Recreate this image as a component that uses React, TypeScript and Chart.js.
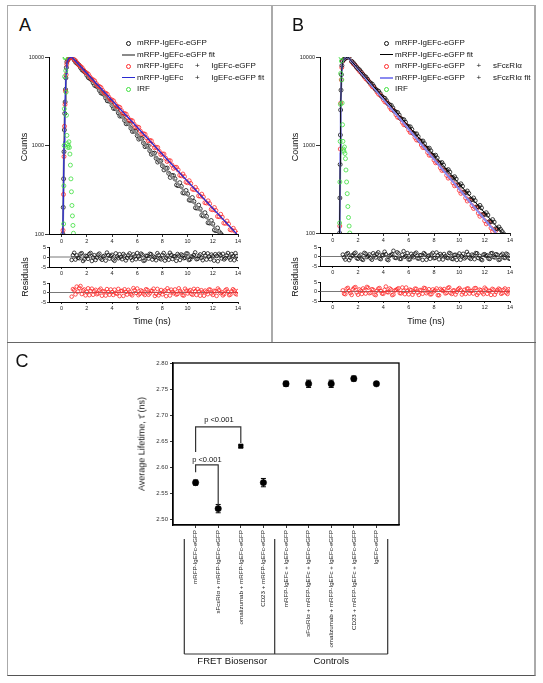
import React, { useEffect, useRef } from 'react';
import { Chart, registerables } from 'chart.js';

Chart.register(...registerables);

const FONT = '"Liberation Sans", Arial, Helvetica, sans-serif';
Chart.defaults.font.family = FONT;
Chart.defaults.color = '#222';

// ---------------- shared ticks ----------------
const timeTicks = [0, 2, 4, 6, 8, 10, 12, 14];
const countTicks = [100, 1000, 10000];
const residualTicks = [-5, 0, 5];

// ---------------- Panel A ----------------
const aLegendLabels = [
  'mRFP-IgEFc-eGFP',
  'mRFP-IgEFc-eGFP fit',
  'mRFP-IgEFc + IgEFc-eGFP',
  'mRFP-IgEFc + IgEFc-eGFP fit',
  'IRF',
];
const aBlackRiseT = [0.1, 0.13, 0.16, 0.19, 0.22, 0.25, 0.28, 0.31, 0.34, 0.38, 0.42, 0.5, 0.6, 0.7, 0.8];
const aBlackRiseY = [100, 200, 420, 850, 1500, 2300, 3100, 4300, 5800, 7600, 8800, 9300, 9700, 9950, 10000];
const aRedRiseT = [0.11, 0.15, 0.19, 0.23, 0.27, 0.31, 0.36, 0.41, 0.48, 0.58, 0.7, 0.8];
const aRedRiseY = [110, 280, 750, 1650, 2900, 4100, 6300, 8300, 9200, 9600, 9900, 10000];
const aDecayT = [
  1.0, 1.25, 1.5, 1.75, 2.0, 2.25, 2.5, 2.75, 3.0, 3.25, 3.5, 3.75, 4.0, 4.25, 4.5, 4.75, 5.0, 5.25,
  5.5, 5.75, 6.0, 6.25, 6.5, 6.75, 7.0, 7.25, 7.5, 7.75, 8.0, 8.25, 8.5, 8.75, 9.0, 9.25, 9.5, 9.75,
  10.0, 10.25, 10.5, 10.75, 11.0, 11.25, 11.5, 11.75, 12.0, 12.25, 12.5, 12.75, 13.0, 13.25, 13.5, 13.75, 14.0,
];
const aBlackY = [
  9250, 8420, 7580, 6930, 6220, 5700, 5110, 4690, 4200, 3870, 3450, 3190, 2840, 2620, 2340, 2160, 1920, 1780,
  1570, 1460, 1295, 1205, 1065, 990, 875, 815, 718, 672, 590, 553, 485, 458, 420, 352, 345, 290,
  284, 240, 233, 196, 192, 160, 158, 133, 130, 109, 106, 96, null, null, null, null, null,
];
const aRedY = [
  9320, 8500, 7840, 7120, 6580, 5970, 5530, 5010, 4640, 4200, 3900, 3520, 3270, 2950, 2740, 2480, 2300, 2075,
  1930, 1740, 1620, 1455, 1360, 1220, 1140, 1025, 955, 860, 802, 720, 675, 603, 568, 530, 455, 445,
  380, 372, 318, 314, 268, 262, 224, 220, 188, 184, 157, 155, 132, 130, 111, 108, 102,
];
const aDecayT2 = [
  1.125, 1.375, 1.625, 1.875, 2.125, 2.375, 2.625, 2.875, 3.125, 3.375, 3.625, 3.875, 4.125, 4.375,
  4.625, 4.875, 5.125, 5.375, 5.625, 5.875, 6.125, 6.375, 6.625, 6.875, 7.125, 7.375, 7.625, 7.875,
  8.125, 8.375, 8.625, 8.875, 9.125, 9.375, 9.625, 9.875, 10.125, 10.375, 10.625, 10.875, 11.125,
  11.375, 11.625, 11.875, 12.125, 12.375, 12.625, 12.875, 13.125, 13.375, 13.625, 13.875,
];
const aBlackY2 = [
  8700, 8120, 7150, 6700, 5850, 5520, 4780, 4560, 3920, 3760, 3200, 3120, 2620, 2580, 2150, 2130, 1760,
  1750, 1440, 1450, 1180, 1200, 970, 990, 795, 820, 650, 672, 530, 556, 436, 458, 358, 380, 292, 310,
  242, 258, 198, 212, 163, 174, 134, 142, 111, 117, 101,
];
const aRedY2 = [
  9020, 8080, 7580, 6760, 6380, 5660, 5370, 4730, 4520, 3950, 3800, 3310, 3190, 2770, 2690, 2310, 2260,
  1930, 1900, 1615, 1600, 1350, 1340, 1130, 1130, 945, 950, 790, 800, 660, 672, 552, 566, 462, 476, 386,
  400, 322, 336, 270, 282, 226, 237, 190, 199, 158, 167, 133, 140, 112, 116, 95,
];
const aFitBlackT = [0.1, 0.16, 0.22, 0.28, 0.34, 0.42, 0.55, 0.7, 0.8, 12.58];
const aFitBlackY = [100, 420, 1500, 3100, 5800, 8800, 9500, 9950, 10000, 100];
const aFitRedT = [0.1, 0.15, 0.2, 0.25, 0.3, 0.36, 0.42, 0.55, 0.7, 0.8, 13.9];
const aFitRedY = [100, 330, 1100, 2300, 4000, 6500, 8700, 9500, 9950, 10000, 100];
const aIrfT = [0.16, 0.18, 0.2, 0.22, 0.24, 0.27, 0.3, 0.33, 0.36, 0.39, 0.42, 0.46, 0.5, 0.54, 0.58, 0.62, 0.66, 0.7, 0.74, 0.78, 0.82, 0.86, 0.9, 0.94];
const aIrfY = [130, 350, 1000, 2600, 6000, 9800, 10000, 7000, 4000, 2200, 1300, 1050, 950, 1000, 1100, 950, 800, 600, 420, 300, 210, 160, 125, 102];

// ---------------- Panel B ----------------
const bLegendLabels = [
  'mRFP-IgEFc-eGFP',
  'mRFP-IgEFc-eGFP fit',
  'mRFP-IgEFc-eGFP + sFcεRIα',
  'mRFP-IgEFc-eGFP + sFcεRIα fit',
  'IRF',
];
const bBlackRiseT = [0.55, 0.57, 0.59, 0.61, 0.63, 0.66, 0.69, 0.73, 0.78, 0.9, 1.0, 1.1, 1.2, 1.3];
const bBlackRiseY = [100, 250, 600, 1300, 2500, 4200, 6300, 8000, 9000, 9400, 9700, 9900, 10000, 9950];
const bRedRiseT = [0.56, 0.6, 0.64, 0.68, 0.72, 0.78, 0.88, 1.0, 1.12, 1.25];
const bRedRiseY = [120, 900, 3000, 5500, 7600, 8900, 9400, 9750, 9950, 10000];
const bDecayT = [
  1.5, 1.75, 2.0, 2.25, 2.5, 2.75, 3.0, 3.25, 3.5, 3.75, 4.0, 4.25, 4.5, 4.75, 5.0, 5.25, 5.5,
  5.75, 6.0, 6.25, 6.5, 6.75, 7.0, 7.25, 7.5, 7.75, 8.0, 8.25, 8.5, 8.75, 9.0, 9.25, 9.5, 9.75,
  10.0, 10.25, 10.5, 10.75, 11.0, 11.25, 11.5, 11.75, 12.0, 12.25, 12.5, 12.75, 13.0, 13.25, 13.5, 13.75, 14.0,
];
const bBlackY = [
  8930, 8160, 7370, 6760, 6090, 5600, 5040, 4640, 4170, 3850, 3450, 3190, 2850, 2640, 2360, 2190, 1950,
  1815, 1610, 1505, 1335, 1245, 1100, 1035, 910, 858, 752, 712, 622, 592, 514, 492, 424, 410,
  349, 340, 288, 282, 240, 233, 198, 193, 163, 160, 135, 133, 112, 110, 98, null, null,
];
const bRedY = [
  8860, 8080, 7260, 6640, 5950, 5460, 4880, 4490, 4000, 3690, 3280, 3040, 2690, 2500, 2210, 2050, 1810,
  1690, 1485, 1385, 1220, 1140, 1000, 938, 822, 770, 674, 634, 552, 521, 452, 429, 372, 352,
  305, 290, 250, 239, 205, 196, 168, 161, 138, 132, 114, 109, 94, null, null, null, null,
];
const bDecayT2 = [
  1.625, 1.875, 2.125, 2.375, 2.625, 2.875, 3.125, 3.375, 3.625, 3.875, 4.125, 4.375, 4.625, 4.875,
  5.125, 5.375, 5.625, 5.875, 6.125, 6.375, 6.625, 6.875, 7.125, 7.375, 7.625, 7.875, 8.125, 8.375,
  8.625, 8.875, 9.125, 9.375, 9.625, 9.875, 10.125, 10.375, 10.625, 10.875, 11.125, 11.375, 11.625,
  11.875, 12.125, 12.375, 12.625, 12.875, 13.125, 13.375,
];
const bBlackY2 = [
  8600, 7680, 7130, 6330, 5920, 5230, 4920, 4320, 4090, 3570, 3390, 2950, 2820, 2430, 2340, 2000, 1940,
  1650, 1610, 1360, 1340, 1120, 1110, 930, 920, 765, 765, 630, 632, 520, 525, 428, 436, 353, 362, 292,
  300, 240, 250, 198, 206, 163, 170, 135, 142, 112, 117, 104,
];
const bRedY2 = [
  8380, 7750, 6870, 6380, 5630, 5250, 4610, 4320, 3780, 3560, 3090, 2940, 2530, 2420, 2070, 1990, 1700,
  1640, 1390, 1350, 1140, 1110, 935, 915, 765, 752, 628, 620, 514, 510, 420, 420, 344, 346, 282, 284,
  231, 234, 190, 192, 155, 158, 127, 130, 104, 107,
];
const bFitBlackT = [0.55, 0.59, 0.63, 0.69, 0.78, 1.0, 1.2, 13.4];
const bFitBlackY = [100, 600, 2500, 6300, 9000, 9700, 10000, 100];
const bFitRedT = [0.56, 0.6, 0.64, 0.7, 0.78, 1.0, 1.2, 12.9];
const bFitRedY = [100, 800, 2900, 6500, 8900, 9700, 10000, 100];
const bIrfT = [0.55, 0.57, 0.59, 0.61, 0.63, 0.66, 0.69, 0.72, 0.75, 0.78, 0.81, 0.85, 0.89, 0.93, 0.97, 1.01, 1.05, 1.1, 1.15, 1.2, 1.25, 1.3, 1.35];
const bIrfY = [130, 380, 1100, 2900, 6500, 10000, 9000, 5500, 3000, 1700, 1100, 900, 850, 950, 800, 700, 520, 380, 280, 200, 150, 120, 100];

// ---------------- Residuals (A and B) ----------------
const resTimes = [
  0.8, 1.0, 1.2, 1.4, 1.6, 1.8, 2.0, 2.2, 2.4, 2.6,
  2.8, 3.0, 3.2, 3.4, 3.6, 3.8, 4.0, 4.2, 4.4, 4.6,
  4.8, 5.0, 5.2, 5.4, 5.6, 5.8, 6.0, 6.2, 6.4, 6.6,
  6.8, 7.0, 7.2, 7.4, 7.6, 7.8, 8.0, 8.2, 8.4, 8.6,
  8.8, 9.0, 9.2, 9.4, 9.6, 9.8, 10.0, 10.2, 10.4, 10.6,
  10.8, 11.0, 11.2, 11.4, 11.6, 11.8, 12.0, 12.2, 12.4, 12.6,
  12.8, 13.0, 13.2, 13.4, 13.6, 13.8, 14.0,
];
const resTimes2 = [
  0.9, 1.1, 1.3, 1.5, 1.7, 1.9, 2.1, 2.3, 2.5, 2.7,
  2.9, 3.1, 3.3, 3.5, 3.7, 3.9, 4.1, 4.3, 4.5, 4.7,
  4.9, 5.1, 5.3, 5.5, 5.7, 5.9, 6.1, 6.3, 6.5, 6.7,
  6.9, 7.1, 7.3, 7.5, 7.7, 7.9, 8.1, 8.3, 8.5, 8.7,
  8.9, 9.1, 9.3, 9.5, 9.7, 9.9, 10.1, 10.3, 10.5, 10.7,
  10.9, 11.1, 11.3, 11.5, 11.7, 11.9, 12.1, 12.3, 12.5, 12.7,
  12.9, 13.1, 13.3, 13.5, 13.7, 13.9,
];
const resZeroT = [-1, 14];
const resZeroY = [0, 0];
const aRes1 = [
  -1.5, 2.1, 0.8, -0.6, 1.9, -1.2, 0.4, 1.5, -2.0, 0.9,
  -0.3, 1.7, -1.4, 0.6, 2.2, -0.8, 1.1, -1.9, 0.2, 1.4,
  -1.1, 0.7, -0.5, 1.8, -1.6, 0.3, 2.0, -0.9, 1.2, -1.7,
  0.5, 1.6, -1.3, -0.2, 1.9, -0.7, 1.0, -1.8, 0.6, 2.1,
  -1.0, 0.3, 1.5, -1.5, 0.8, -0.4, 1.7, -1.2, 0.1, 2.3,
  -0.9, 1.3, -1.6, 0.7, 1.8, -1.1, 0.4, 1.4, -2.1, 0.9,
  1.6, -0.6, 2.0, -1.4, 0.5, 1.9, -1.0,
];
const aRes1b = [
  0.9, -1.3, -0.4, 1.6, -2.0, 0.6, -0.9, 2.0, -0.2, -1.5,
  1.2, -0.7, 0.3, -1.8, 1.0, 0.5, -1.3, 1.8, -0.6, -0.1,
  1.5, -1.7, 0.9, -0.4, 1.3, -1.1, 0.2, 1.7, -1.9, 0.6,
  -0.8, 1.4, 0.2, -1.6, 0.9, -1.2, 2.0, -0.3, -1.4, 1.1,
  0.4, -1.9, 0.7, 1.3, -0.6, 1.8, -1.5, 0.3, 1.0, -1.1,
  0.6, -0.4, 1.9, -1.3, 0.2, 1.2, -1.8, 0.5, 1.6, -0.7,
  -1.2, 0.8, -0.3, 1.5, -1.6, 0.4,
];
const aRes2 = [
  -2.2, 1.2, 3.1, 2.4, -0.8, 1.6, 0.3, -1.4, 2.0, 0.7,
  -0.9, 1.3, -1.7, 0.5, 1.8, -1.2, 0.2, 1.5, -0.6, -1.9,
  0.9, 1.7, -1.1, 0.4, -1.5, 1.2, 2.1, -0.7, 0.6, -1.3,
  1.4, -0.4, 0.8, -1.8, 1.9, -0.2, -1.0, 1.1, 2.2, -1.6,
  0.3, 1.6, -0.8, 0.9, -1.4, 2.0, -0.5, 1.3, -1.2, 0.7,
  1.8, -1.7, 0.2, 1.0, -0.9, 1.5, -1.3, 0.6, 2.1, -0.3,
  -1.5, 1.2, 0.4, -1.1, 1.7, -0.6, 0.8,
];
const aRes2b = [
  1.8, -1.0, 0.5, 3.4, 1.1, -1.5, 2.2, 0.8, -1.2, 1.4,
  -0.5, 2.0, 0.6, -1.6, 0.2, 1.6, -1.3, -0.4, 1.9, 0.7,
  -1.8, 0.3, 1.4, -0.9, 2.3, -0.2, -1.4, 1.1, -0.6, 1.7,
  -1.2, 0.9, 2.0, -0.7, -1.5, 1.3, 0.4, -1.9, 0.8, 1.5,
  -0.4, -1.1, 2.2, 0.1, -1.6, 1.0, 0.6, -0.8, 1.9, -1.3,
  0.5, 1.2, -1.7, 0.3, 1.6, -0.5, 0.9, -1.8, 1.3, 0.2,
  -0.9, 1.7, -1.4, 0.6, 1.1, -1.0,
];
const bRes1 = [
  1.0, -1.6, 1.8, -0.7, 0.4, 2.0, -1.2, 0.9, -1.8, 1.5,
  0.2, -1.0, 1.7, -0.5, 2.2, -1.4, 0.6, 1.2, -1.9, 0.8,
  3.0, -0.8, 1.6, -1.3, 2.8, 0.3, -1.6, 1.4, -0.4, 2.0,
  -1.1, 0.7, 1.8, -1.7, 0.5, 1.1, -0.9, 2.1, -1.5, 0.4,
  1.3, -0.6, 1.9, -1.2, 0.8, -1.8, 1.6, 0.1, -1.0, 2.4,
  -0.7, 1.0, -1.4, 1.7, 0.3, -1.9, 1.2, 0.6, -1.3, 1.8,
  -0.5, 0.9, -1.6, 1.4, -0.8, 1.1, -1.2,
];
const bRes1b = [
  -0.5, 1.3, -1.9, 0.6, 1.6, -0.9, 0.2, -1.4, 1.9, -0.3,
  1.1, -1.7, 0.5, 1.4, -1.1, 0.8, 2.5, -1.6, 0.4, 1.2,
  -0.6, 2.2, -1.3, 0.9, -0.2, 1.8, -1.5, 0.3, 1.5, -1.0,
  0.7, -1.8, 1.2, 0.1, -1.2, 1.9, -0.7, 0.6, 1.3, -1.6,
  0.2, -0.9, 1.6, -1.4, 0.9, 0.4, -1.7, 1.4, -0.4, 1.1,
  -1.3, 0.5, 1.8, -0.8, -1.5, 1.0, 0.3, -1.1, 1.7, -0.2,
  1.2, -1.8, 0.7, -0.5, 1.5, -1.0,
];
const bRes2 = [
  0.6, -1.4, 1.9, -0.8, 1.2, 2.3, -1.7, 0.4, 1.6, -1.1,
  2.0, -0.6, 0.9, -1.9, 1.5, 0.2, -1.2, 2.6, -0.4, 1.1,
  -1.6, 0.8, 1.7, -1.0, 0.3, 2.1, -1.5, 0.7, -0.3, 1.4,
  -1.8, 0.5, 1.9, -0.9, 1.2, -1.4, 0.1, 1.6, -2.0, 0.8,
  1.3, -0.7, 2.2, -1.3, 0.6, -0.2, 1.8, -1.6, 0.9, 1.5,
  -1.1, 0.4, 1.7, -1.8, 1.0, -0.5, 2.0, -1.2, 0.3, 1.4,
  -1.7, 0.7, 1.1, -0.9, 1.6, -1.3, 0.5,
];
const bRes2b = [
  -1.2, 1.5, 0.3, -1.8, 2.0, -0.5, 1.1, -1.3, 0.6, 2.4,
  -0.9, 1.2, -1.6, 0.4, 1.8, -1.1, 0.9, -0.3, 1.6, -1.9,
  0.5, 1.3, -0.8, 2.1, -1.4, 0.2, 1.0, -1.7, 1.5, -0.6,
  0.8, -1.2, 1.7, -0.1, -1.5, 1.1, 0.6, -1.9, 1.4, 0.3,
  -1.0, 1.9, -0.7, 0.5, -1.6, 1.2, 0.9, -0.4, -1.3, 1.6,
  0.2, -1.1, 1.8, -0.9, 0.7, -1.4, 1.3, 0.4, -1.8, 1.0,
  -0.3, 1.5, -1.2, 0.9, -0.6, 1.2,
];

// ---------------- Panel C ----------------
const cPositions = [1, 2, 3, 4, 5, 6, 7, 8, 9];
const cLabels = [
  'mRFP-IgEFc-eGFP',
  'sFcεRIα + mRFP-IgEFc-eGFP',
  'omalizumab + mRFP-IgEFc-eGFP',
  'CD23 + mRFP-IgEFc-eGFP',
  'mRFP-IgEFc + IgEFc-eGFP',
  'sFcεRIα + mRFP-IgEFc + IgEFc-eGFP',
  'omalizumab + mRFP-IgEFc + IgEFc-eGFP',
  'CD23 + mRFP-IgEFc + IgEFc-eGFP',
  'IgEFc-eGFP',
];
const cValues = [2.57, 2.52, 2.64, 2.57, 2.76, 2.76, 2.76, 2.77, 2.76];
const cErrors = [0.005, 0.008, 0.002, 0.008, 0.005, 0.007, 0.007, 0.005, 0];
const cMarkers = ['circle', 'circle', 'rect', 'circle', 'circle', 'circle', 'circle', 'circle', 'circle'];
const cYTicks = [2.5, 2.55, 2.6, 2.65, 2.7, 2.75, 2.8];
const bracketLowT = [1, 1, 2, 2];
const bracketLowY = [2.59, 2.604, 2.604, 2.527];
const bracketHighT = [1, 1, 3, 3];
const bracketHighY = [2.629, 2.677, 2.677, 2.646];
const pLabelText = ['p <0.001', 'p <0.001'];
const pLabelX = [1.5, 2.03];
const pLabelY = [2.614, 2.69];
const groupNames = ['FRET Biosensor', 'Controls'];
const groupBounds = [0.5, 4.5, 9.5];
const groupCenters = [2.62, 7.0];

// ---------------- helpers ----------------
type Pt = { x: number; y: number };
const pts = (xs: number[], ys: (number | null)[]): Pt[] => {
  const out: Pt[] = [];
  xs.forEach((x, i) => {
    const y = ys[i];
    if (y !== null && y !== undefined) out.push({ x, y });
  });
  return out;
};

const scatterDs = (data: Pt[], color: string, order: number, radius = 2) => ({
  data,
  showLine: false,
  pointRadius: radius,
  pointStyle: 'circle',
  pointBorderColor: color,
  borderColor: color,
  pointBackgroundColor: 'rgba(0,0,0,0)',
  backgroundColor: 'rgba(0,0,0,0)',
  pointBorderWidth: 0.8,
  order,
});
const lineDs = (data: Pt[], color: string, width: number, order: number) => ({
  data,
  showLine: true,
  pointRadius: 0,
  borderColor: color,
  backgroundColor: color,
  borderWidth: width,
  tension: 0,
  fill: false,
  order,
});

const tickFont = { family: FONT, size: 5.5 };

const xTimeScale = (h: number, tickLen: number) => ({
  type: 'linear',
  min: -1,
  max: 14,
  afterBuildTicks: (s: any) => {
    s.ticks = timeTicks.map((v) => ({ value: v }));
  },
  afterFit: (s: any) => {
    s.height = h;
  },
  ticks: { font: tickFont, color: '#222', padding: 1, maxRotation: 0, autoSkip: false, callback: (v: any) => String(v) },
  grid: { drawOnChartArea: false, drawTicks: true, tickLength: tickLen, color: '#000', lineWidth: 0.8 },
  border: { display: true, color: '#000', width: 1 },
});

const yCountScale = (w: number) => ({
  type: 'logarithmic',
  min: 100,
  max: 10000,
  afterBuildTicks: (s: any) => {
    s.ticks = countTicks.map((v) => ({ value: v }));
  },
  afterFit: (s: any) => {
    s.width = w;
  },
  ticks: { font: tickFont, color: '#222', padding: 1, autoSkip: false, callback: (v: any) => String(v) },
  grid: { drawOnChartArea: false, drawTicks: true, tickLength: 4, color: '#000', lineWidth: 0.8 },
  border: { display: true, color: '#000', width: 1 },
});

const yResScale = (w: number) => ({
  type: 'linear',
  min: -5,
  max: 5,
  afterBuildTicks: (s: any) => {
    s.ticks = residualTicks.map((v) => ({ value: v }));
  },
  afterFit: (s: any) => {
    s.width = w;
  },
  ticks: { font: tickFont, color: '#222', padding: 1, autoSkip: false, callback: (v: any) => String(v) },
  grid: { drawOnChartArea: false, drawTicks: true, tickLength: 2, color: '#000', lineWidth: 0.8 },
  border: { display: true, color: '#000', width: 1 },
});

const baseOptions = (padding: any, scales: any) => ({
  responsive: false,
  maintainAspectRatio: false,
  animation: false,
  events: [],
  layout: { padding },
  plugins: { legend: { display: false }, tooltip: { enabled: false } },
  scales,
});

// ---------------- chart configs ----------------
const makeAMain = () => ({
  type: 'scatter',
  data: {
    datasets: [
      scatterDs(
        [...pts(aBlackRiseT, aBlackRiseY), ...pts(aDecayT, aBlackY), ...pts(aDecayT2, aBlackY2)],
        '#111',
        5
      ),
      lineDs(pts(aFitBlackT, aFitBlackY), '#8a8a8a', 2, 4),
      scatterDs(
        [...pts(aRedRiseT, aRedRiseY), ...pts(aDecayT, aRedY), ...pts(aDecayT2, aRedY2)],
        '#ff2a2a',
        3
      ),
      lineDs(pts(aFitRedT, aFitRedY), '#2a2ad0', 1.3, 2),
      scatterDs(pts(aIrfT, aIrfY), '#3ee03e', 1),
    ],
  },
  options: baseOptions({ left: 0, top: 12, right: 10, bottom: 0 }, { x: xTimeScale(11, 3), y: yCountScale(41) }),
});

const makeBMain = () => ({
  type: 'scatter',
  data: {
    datasets: [
      scatterDs(
        [...pts(bRedRiseT, bRedRiseY), ...pts(bDecayT, bRedY), ...pts(bDecayT2, bRedY2)],
        '#ff2a2a',
        5
      ),
      scatterDs(
        [...pts(bBlackRiseT, bBlackRiseY), ...pts(bDecayT, bBlackY), ...pts(bDecayT2, bBlackY2)],
        '#111',
        4
      ),
      lineDs(pts(bFitRedT, bFitRedY), '#8a8af0', 2, 3),
      lineDs(pts(bFitBlackT, bFitBlackY), '#000', 1, 2),
      scatterDs(pts(bIrfT, bIrfY), '#3ee03e', 1),
    ],
  },
  options: baseOptions({ left: 0, top: 12, right: 10, bottom: 0 }, { x: xTimeScale(12, 3), y: yCountScale(41) }),
});

const makeRes = (vals: number[], vals2: number[], color: string, pt: number, xh: number) => () => ({
  type: 'scatter',
  data: {
    datasets: [
      scatterDs([...pts(resTimes, vals), ...pts(resTimes2, vals2)], color, 1, 1.8),
      lineDs(pts(resZeroT, resZeroY), '#555', 0.8, 2),
    ],
  },
  options: baseOptions({ left: 0, top: pt, right: 10, bottom: 0 }, { x: xTimeScale(xh, 2), y: yResScale(41) }),
});

const cDecor = {
  id: 'cDecor',
  beforeDatasetsDraw(chart: any) {
    const { ctx, scales } = chart;
    const x = scales.x;
    const y = scales.y;
    ctx.save();
    ctx.strokeStyle = '#000';
    ctx.lineWidth = 1;
    cPositions.forEach((p, i) => {
      const e = cErrors[i];
      if (!e) return;
      const px = x.getPixelForValue(p);
      const y1 = y.getPixelForValue(cValues[i] + e);
      const y2 = y.getPixelForValue(cValues[i] - e);
      ctx.beginPath();
      ctx.moveTo(px, y1);
      ctx.lineTo(px, y2);
      ctx.moveTo(px - 2.5, y1);
      ctx.lineTo(px + 2.5, y1);
      ctx.moveTo(px - 2.5, y2);
      ctx.lineTo(px + 2.5, y2);
      ctx.stroke();
    });
    ctx.restore();
  },
  afterDraw(chart: any) {
    const { ctx, chartArea, scales } = chart;
    const x = scales.x;
    const y = scales.y;
    ctx.save();
    ctx.strokeStyle = '#000';
    ctx.lineWidth = 1.3;
    ctx.strokeRect(chartArea.left, chartArea.top, chartArea.right - chartArea.left, chartArea.bottom - chartArea.top);
    ctx.fillStyle = '#111';
    ctx.font = `7.5px ${FONT}`;
    ctx.textAlign = 'center';
    ctx.textBaseline = 'middle';
    pLabelText.forEach((t, i) => {
      ctx.fillText(t, x.getPixelForValue(pLabelX[i]), y.getPixelForValue(pLabelY[i]));
    });
    const top = chartArea.bottom + 14;
    const bot = chartArea.bottom + 129;
    ctx.strokeStyle = '#333';
    ctx.lineWidth = 1.2;
    ctx.beginPath();
    groupBounds.forEach((g) => {
      const px = x.getPixelForValue(g);
      ctx.moveTo(px, top);
      ctx.lineTo(px, bot);
    });
    ctx.moveTo(x.getPixelForValue(groupBounds[0]), bot);
    ctx.lineTo(x.getPixelForValue(groupBounds[groupBounds.length - 1]), bot);
    ctx.stroke();
    ctx.font = `9.5px ${FONT}`;
    ctx.fillStyle = '#111';
    groupNames.forEach((n, i) => {
      ctx.fillText(n, x.getPixelForValue(groupCenters[i]), chartArea.bottom + 136);
    });
    ctx.restore();
  },
};

const makeC = () => ({
  type: 'scatter',
  data: {
    datasets: [
      {
        data: pts(cPositions, cValues),
        showLine: false,
        pointStyle: cMarkers,
        pointRadius: 3.2,
        pointBackgroundColor: '#000',
        pointBorderColor: '#000',
        backgroundColor: '#000',
        borderColor: '#000',
        pointBorderWidth: 0.5,
        order: 1,
      },
      lineDs(pts(bracketLowT, bracketLowY), '#333', 1.2, 2),
      lineDs(pts(bracketHighT, bracketHighY), '#333', 1.2, 3),
    ],
  },
  options: baseOptions(
    { left: 0, top: 18, right: 21, bottom: 0 },
    {
      x: {
        type: 'linear',
        min: 0,
        max: 10,
        afterBuildTicks: (s: any) => {
          s.ticks = cPositions.map((v) => ({ value: v }));
        },
        afterFit: (s: any) => {
          s.height = 145;
        },
        ticks: {
          font: { family: FONT, size: 6.2 },
          color: '#222',
          padding: 2,
          autoSkip: false,
          minRotation: 90,
          maxRotation: 90,
          callback: (v: any) => {
            const i = cPositions.indexOf(Number(v));
            return i >= 0 ? cLabels[i] : '';
          },
        },
        grid: { drawOnChartArea: false, drawTicks: true, tickLength: 3, color: '#000', lineWidth: 0.8 },
        border: { display: true, color: '#000', width: 1.3 },
      },
      y: {
        type: 'linear',
        min: 2.4885,
        max: 2.8,
        afterBuildTicks: (s: any) => {
          s.ticks = cYTicks.map((v) => ({ value: v }));
        },
        afterFit: (s: any) => {
          s.width = 43;
        },
        ticks: { font: { family: FONT, size: 6 }, color: '#333', padding: 2, autoSkip: false, callback: (v: any) => Number(v).toFixed(2) },
        grid: { drawOnChartArea: false, drawTicks: true, tickLength: 3, color: '#000', lineWidth: 0.8 },
        border: { display: true, color: '#000', width: 1.3 },
      },
    }
  ),
  plugins: [cDecor],
});

// ---------------- components ----------------
function ChartBox({ x, y, w, h, make }: { x: number; y: number; w: number; h: number; make: () => any }) {
  const ref = useRef<HTMLCanvasElement>(null);
  useEffect(() => {
    const c = new Chart(ref.current as HTMLCanvasElement, make());
    return () => c.destroy();
  }, []);
  return (
    <canvas
      ref={ref}
      width={w}
      height={h}
      style={{ position: 'absolute', left: x, top: y, width: w, height: h }}
    />
  );
}

function Txt({ x, y, size, rotate = 0, children }: { x: number; y: number; size: number; rotate?: number; children: any }) {
  return (
    <div
      style={{
        position: 'absolute',
        left: x,
        top: y,
        transform: `translate(-50%, -50%) rotate(${rotate}deg)`,
        fontFamily: FONT,
        fontSize: size,
        lineHeight: 1,
        whiteSpace: 'nowrap',
        color: '#111',
      }}
    >
      {children}
    </div>
  );
}

// legend label: the reference sets wide gaps around "+"
function LegendLabel({ text }: { text: string }) {
  const parts = text.split(' + ');
  if (parts.length < 2) return <>{text}</>;
  return (
    <>
      {parts[0]}
      <span style={{ margin: '0 9.5px' }}> + </span>
      {parts.slice(1).join(' + ')}
    </>
  );
}

type LegendEntry = { kind: 'circle' | 'line'; color: string; w?: number };
function LegendBox({ labels, symbols, symX, textX, y0, dy }: { labels: string[]; symbols: LegendEntry[]; symX: number; textX: number; y0: number; dy: number }) {
  return (
    <>
      {labels.map((label, i) => {
        const cy = y0 + i * dy;
        const s = symbols[i];
        return (
          <React.Fragment key={i}>
            {s.kind === 'circle' ? (
              <div
                style={{
                  position: 'absolute',
                  left: symX - 2.5,
                  top: cy - 2.5,
                  width: 5,
                  height: 5,
                  boxSizing: 'border-box',
                  border: `1px solid ${s.color}`,
                  borderRadius: '50%',
                }}
              />
            ) : (
              <div
                style={{
                  position: 'absolute',
                  left: symX - 6.5,
                  top: cy - (s.w || 1) / 2,
                  width: 13,
                  height: s.w || 1,
                  background: s.color,
                }}
              />
            )}
            <div
              style={{
                position: 'absolute',
                left: textX,
                top: cy,
                transform: 'translateY(-50%)',
                fontFamily: FONT,
                fontSize: 8,
                lineHeight: 1,
                whiteSpace: 'pre',
                color: '#111',
              }}
            >
              <LegendLabel text={label} />
            </div>
          </React.Fragment>
        );
      })}
    </>
  );
}

const aSymbols: LegendEntry[] = [
  { kind: 'circle', color: '#111' },
  { kind: 'line', color: '#8a8a8a', w: 2 },
  { kind: 'circle', color: '#ff2a2a' },
  { kind: 'line', color: '#2a2ad0', w: 1.3 },
  { kind: 'circle', color: '#3ee03e' },
];
const bSymbols: LegendEntry[] = [
  { kind: 'circle', color: '#111' },
  { kind: 'line', color: '#000', w: 1 },
  { kind: 'circle', color: '#ff2a2a' },
  { kind: 'line', color: '#8a8af0', w: 2 },
  { kind: 'circle', color: '#3ee03e' },
];

export default function App() {
  return (
    <div style={{ position: 'absolute', left: 0, top: 0, width: 543, height: 683, background: '#fff', overflow: 'hidden' }}>
      <div
        style={{
          position: 'absolute',
          left: 7,
          top: 5,
          width: 529,
          height: 671,
          boxSizing: 'border-box',
          borderTop: '1px solid #aaa',
          borderLeft: '1px solid #aaa',
          borderRight: '2px solid #aaa',
          borderBottom: '1px solid #555',
        }}
      />
      <div style={{ position: 'absolute', left: 271, top: 5, width: 2, height: 337, background: '#aaa' }} />
      <div style={{ position: 'absolute', left: 7, top: 342, width: 529, height: 1, background: '#666' }} />

      {/* Panel A */}
      <ChartBox x={8} y={45} w={240} h={200} make={makeAMain} />
      <ChartBox x={8} y={240} w={240} h={37} make={makeRes(aRes1, aRes1b, '#111', 7, 10)} />
      <ChartBox x={8} y={276} w={240} h={36} make={makeRes(aRes2, aRes2b, '#ff2a2a', 7, 10)} />
      <Txt x={25} y={25} size={18}>A</Txt>
      <Txt x={24} y={147} size={9} rotate={-90}>Counts</Txt>
      <Txt x={25} y={277} size={9} rotate={-90}>Residuals</Txt>
      <Txt x={152} y={321} size={9}>Time (ns)</Txt>
      <LegendBox labels={aLegendLabels} symbols={aSymbols} symX={128} textX={137} y0={43} dy={11.6} />

      {/* Panel B */}
      <ChartBox x={279} y={45} w={241} h={200} make={makeBMain} />
      <ChartBox x={279} y={240} w={241} h={37} make={makeRes(bRes1, bRes1b, '#111', 7, 11)} />
      <ChartBox x={279} y={276} w={241} h={36} make={makeRes(bRes2, bRes2b, '#ff2a2a', 6, 11)} />
      <Txt x={298} y={25} size={18}>B</Txt>
      <Txt x={295} y={147} size={9} rotate={-90}>Counts</Txt>
      <Txt x={295} y={277} size={9} rotate={-90}>Residuals</Txt>
      <Txt x={426} y={321} size={9}>Time (ns)</Txt>
      <LegendBox labels={bLegendLabels} symbols={bSymbols} symX={386} textX={395} y0={43} dy={11.6} />

      {/* Panel C */}
      <Txt x={22} y={361} size={18}>C</Txt>
      <ChartBox x={130} y={345} w={290} h={325} make={makeC} />
      <Txt x={142} y={444} size={9} rotate={-90}>Average Lifetime, τ̄ (ns)</Txt>
    </div>
  );
}
